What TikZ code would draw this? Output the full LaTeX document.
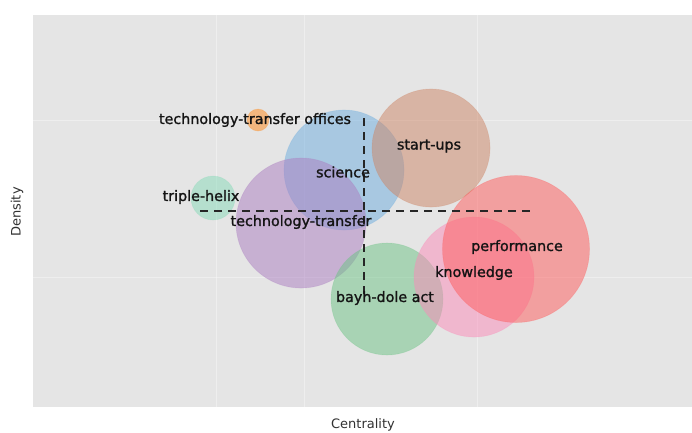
\documentclass[tikz,border=0pt]{standalone}
\usepackage{fontspec}
\setmainfont{DejaVu Sans}
\newfontfamily\lblfont[FakeBold=1.4]{DejaVu Sans}
\definecolor{plotbg}{RGB}{229,229,229}
\definecolor{cblue}{RGB}{109,173,223}
\definecolor{cbrown}{RGB}{205,133,101}
\definecolor{cpurple}{RGB}{171,125,193}
\definecolor{cred}{RGB}{255,91,91}
\definecolor{cpink}{RGB}{251,139,185}
\definecolor{cgreen}{RGB}{109,195,133}
\definecolor{cmint}{RGB}{135,219,185}
\definecolor{corange}{RGB}{255,137,25}
\definecolor{txt}{RGB}{20,20,20}
\definecolor{axtxt}{RGB}{50,50,50}
\tikzset{
  bubble/.style={circle, inner sep=0pt, fill opacity=0.5, draw opacity=0.25, line width=0.6pt},
  lbl/.style={text=txt, font=\lblfont\fontsize{14.3}{16}\selectfont, inner sep=0pt},
  axlbl/.style={text=axtxt, font=\fontsize{13}{15}\selectfont, inner sep=0pt},
  grid line/.style={white, line width=1pt, opacity=0.35},
  quad line/.style={black!85, line width=1.5pt, dash pattern=on 8pt off 6pt}
}
\begin{document}
\begin{tikzpicture}[x=1pt, y=-1pt]
\useasboundingbox (0,0) rectangle (692,432);
\fill[white] (0,0) rectangle (692,432);
\fill[plotbg] (33,15) rectangle (692,407);
% grid
\draw[grid line] (216,15) -- (216,407);
\draw[grid line] (304,15) -- (304,407);
\draw[grid line] (477,15) -- (477,407);
\draw[grid line] (33,120) -- (692,120);
\draw[grid line] (33,277) -- (692,277);
% bubbles
\node[bubble, fill=cmint, draw=cmint, minimum size=44pt] (bhelix) at (213,198) {};
\node[bubble, fill=corange, draw=corange, minimum size=22pt] (btto) at (258,120) {};
\node[bubble, fill=cblue, draw=cblue, minimum size=120pt] (bscience) at (344,170) {};
\node[bubble, fill=cbrown, draw=cbrown, minimum size=118pt] (bstart) at (431,148) {};
\node[bubble, fill=cpurple, draw=cpurple, minimum size=130pt] (btt) at (301,223) {};
\node[bubble, fill=cgreen, draw=cgreen, minimum size=112pt] (bbayh) at (387,299) {};
\node[bubble, fill=cpink, draw=cpink, minimum size=120pt] (bknow) at (474,277) {};
\node[bubble, fill=cred, draw=cred, minimum size=147pt] (bperf) at (516,249) {};
% quadrant lines
\coordinate (hl) at (200,211);
\coordinate (hr) at (535,211);
\coordinate (vt) at (364,118);
\coordinate (vb) at (364,300);
\draw[quad line] (hl) -- (hr);
\draw[quad line] (vt) -- (vb);
% labels
\node[lbl] (ltto) at (255,120) {technology-transfer offices};
\node[lbl] (lstart) at (429,146) {start-ups};
\node[lbl] (lscience) at (343,172) {science};
\node[lbl] (lhelix) at (201,197) {triple-helix};
\node[lbl] (ltt) at (301,222) {technology-transfer};
\node[lbl] (lperf) at (517,247) {performance};
\node[lbl] (lknow) at (474,273) {knowledge};
\node[lbl] (lbayh) at (385,298) {bayh-dole act};
% axis titles
\node[axlbl, rotate=90] (ydens) at (17,212) {Density};
\node[axlbl] (xcent) at (363,425) {Centrality};
\end{tikzpicture}
\end{document}
